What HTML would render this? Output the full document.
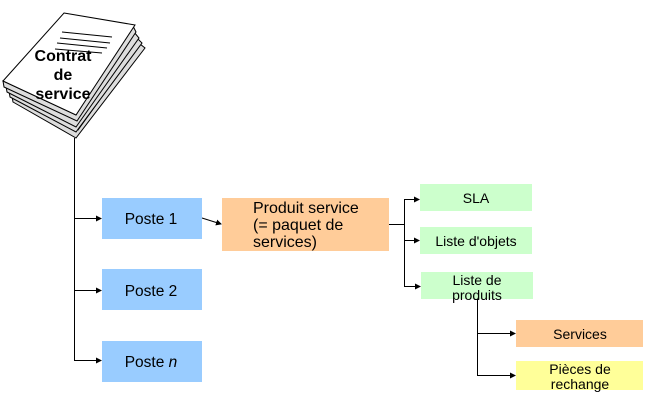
<!DOCTYPE html>
<html><head><meta charset="utf-8"><style>
body{margin:0;background:#fff;width:660px;height:420px;overflow:hidden}
svg{display:block}
text{font-family:"Liberation Sans",sans-serif;font-size:14px;fill:#000}
</style></head><body>
<svg width="660" height="420" viewBox="0 0 660 420" xmlns="http://www.w3.org/2000/svg">
<defs><marker id="a" markerWidth="6" markerHeight="6" refX="5" refY="3" orient="auto" markerUnits="userSpaceOnUse"><path d="M0,0L6,3L0,6z" fill="#000"/></marker></defs>
<g stroke="#000" stroke-width="1">
<polygon points="13,102 76,138 145,48 140,44 78,130 12,96" fill="#ddd"/>
<polygon points="10,97 76,132 142,43 137,38 76,125 9,91" fill="#ddd"/>
<polygon points="7,92 76,127 139,38 134,32 76,120 6,86" fill="#ddd"/>
<polygon points="4,87 77,121 136,32 133,26 76,115 3,81" fill="#ddd"/>
<polygon points="64,13 135,25 76,115 3,81" fill="#fff"/>
<line x1="62" y1="32" x2="112" y2="37"/><line x1="60" y1="38" x2="110" y2="43"/><line x1="57" y1="43" x2="107" y2="48"/><line x1="55" y1="49" x2="102" y2="53"/>
</g>
<text x="63" y="61" text-anchor="middle" font-weight="bold" style="font-size:16px">Contrat</text>
<text x="63" y="80" text-anchor="middle" font-weight="bold" style="font-size:16px">de</text>
<text x="63" y="99" text-anchor="middle" font-weight="bold" style="font-size:16px">service</text>
<g stroke="#000" stroke-width="1" fill="none">
<line x1="74.5" y1="138" x2="74.5" y2="360"/>
<line x1="74" y1="218.5" x2="101" y2="218.5" marker-end="url(#a)"/>
<line x1="74" y1="290.5" x2="101" y2="290.5" marker-end="url(#a)"/>
<line x1="74" y1="360.5" x2="101" y2="360.5" marker-end="url(#a)"/>
<line x1="202" y1="218" x2="221" y2="224" marker-end="url(#a)"/>
<polyline points="389,224.5 404.5,224.5"/>
<line x1="404.5" y1="199" x2="404.5" y2="286"/>
<line x1="404" y1="199.5" x2="419" y2="199.5" marker-end="url(#a)"/>
<line x1="404" y1="240.5" x2="419" y2="240.5" marker-end="url(#a)"/>
<line x1="404" y1="286.5" x2="420" y2="286.5" marker-end="url(#a)"/>
<line x1="477.5" y1="299" x2="477.5" y2="375"/>
<line x1="477" y1="333.5" x2="515" y2="333.5" marker-end="url(#a)"/>
<line x1="477" y1="375.5" x2="515" y2="375.5" marker-end="url(#a)"/>
</g>
<rect x="102" y="198" width="100" height="41" fill="#99ccff"/>
<rect x="102" y="269" width="100" height="41" fill="#99ccff"/>
<rect x="102" y="341" width="100" height="41" fill="#99ccff"/>
<text x="151" y="224" text-anchor="middle" style="font-size:15.5px">Poste 1</text>
<text x="151" y="296" text-anchor="middle" style="font-size:15.5px">Poste 2</text>
<text x="151" y="367" text-anchor="middle" style="font-size:15.5px">Poste <tspan font-style="italic">n</tspan></text>
<rect x="222" y="198" width="167" height="53" fill="#ffcc99"/>
<text x="253" y="213" style="font-size:16px">Produit service</text>
<text x="253" y="230" style="font-size:16px">(= paquet de</text>
<text x="253" y="247" style="font-size:16px">services)</text>
<rect x="420" y="184" width="112" height="27" fill="#ccffcc"/>
<rect x="420" y="227" width="112" height="27" fill="#ccffcc"/>
<rect x="421" y="272" width="112" height="27" fill="#ccffcc"/>
<text x="476" y="203" text-anchor="middle">SLA</text>
<text x="476" y="246" text-anchor="middle">Liste d'objets</text>
<text x="477" y="285" text-anchor="middle">Liste de</text>
<text x="477" y="300" text-anchor="middle">produits</text>
<rect x="516" y="320" width="127" height="27" fill="#ffcc99"/>
<rect x="516" y="361" width="127" height="29" fill="#ffff99"/>
<text x="580" y="339" text-anchor="middle">Services</text>
<text x="580" y="374" text-anchor="middle">Pièces de</text>
<text x="580" y="389" text-anchor="middle">rechange</text>
</svg>
</body></html>
